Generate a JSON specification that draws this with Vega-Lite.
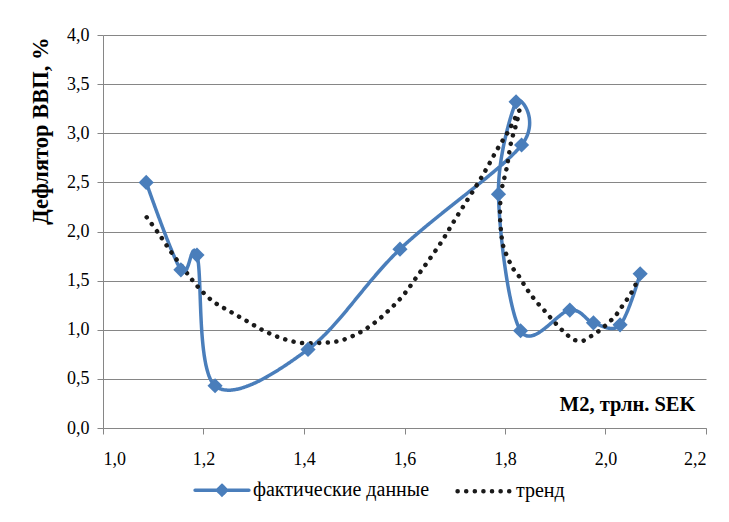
{
  "$schema": "https://vega.github.io/schema/vega-lite/v6.json",
  "width": 603,
  "height": 393,
  "autosize": {"type": "none"},
  "padding": {"left": 103, "top": 35, "right": 23, "bottom": 94},
  "background": "white",
  "config": {
    "font": "Liberation Serif",
    "view": {"stroke": null},
    "axis": {"domainColor": "#868686", "tickColor": "#868686", "gridColor": "#868686", "tickSize": 6}
  },
  "data": {
    "values": [
      {"s": "фактические данные", "i": 1, "x": 1.086, "y": 2.50},
      {"s": "фактические данные", "i": 2, "x": 1.155, "y": 1.61},
      {"s": "фактические данные", "i": 3, "x": 1.187, "y": 1.76},
      {"s": "фактические данные", "i": 4, "x": 1.223, "y": 0.43},
      {"s": "фактические данные", "i": 5, "x": 1.408, "y": 0.80},
      {"s": "фактические данные", "i": 6, "x": 1.591, "y": 1.82},
      {"s": "фактические данные", "i": 7, "x": 1.833, "y": 2.88},
      {"s": "фактические данные", "i": 8, "x": 1.822, "y": 3.32},
      {"s": "фактические данные", "i": 9, "x": 1.787, "y": 2.38},
      {"s": "фактические данные", "i": 10, "x": 1.831, "y": 0.99},
      {"s": "фактические данные", "i": 11, "x": 1.929, "y": 1.20},
      {"s": "фактические данные", "i": 12, "x": 1.976, "y": 1.07},
      {"s": "фактические данные", "i": 13, "x": 2.029, "y": 1.05},
      {"s": "фактические данные", "i": 14, "x": 2.069, "y": 1.57},
      {"s": "тренд", "i": 1, "x": 1.087, "y": 2.145},
      {"s": "тренд", "i": 2, "x": 1.112, "y": 1.970},
      {"s": "тренд", "i": 3, "x": 1.137, "y": 1.780},
      {"s": "тренд", "i": 4, "x": 1.162, "y": 1.611},
      {"s": "тренд", "i": 5, "x": 1.188, "y": 1.442},
      {"s": "тренд", "i": 6, "x": 1.218, "y": 1.292},
      {"s": "тренд", "i": 7, "x": 1.251, "y": 1.191},
      {"s": "тренд", "i": 8, "x": 1.286, "y": 1.089},
      {"s": "тренд", "i": 9, "x": 1.321, "y": 0.988},
      {"s": "тренд", "i": 10, "x": 1.357, "y": 0.911},
      {"s": "тренд", "i": 11, "x": 1.394, "y": 0.866},
      {"s": "тренд", "i": 12, "x": 1.432, "y": 0.866},
      {"s": "тренд", "i": 13, "x": 1.470, "y": 0.886},
      {"s": "тренд", "i": 14, "x": 1.507, "y": 0.961},
      {"s": "тренд", "i": 15, "x": 1.540, "y": 1.069},
      {"s": "тренд", "i": 16, "x": 1.571, "y": 1.208},
      {"s": "тренд", "i": 17, "x": 1.599, "y": 1.360},
      {"s": "тренд", "i": 18, "x": 1.624, "y": 1.536},
      {"s": "тренд", "i": 19, "x": 1.649, "y": 1.713},
      {"s": "тренд", "i": 20, "x": 1.674, "y": 1.898},
      {"s": "тренд", "i": 21, "x": 1.696, "y": 2.084},
      {"s": "тренд", "i": 22, "x": 1.718, "y": 2.264},
      {"s": "тренд", "i": 23, "x": 1.742, "y": 2.457},
      {"s": "тренд", "i": 24, "x": 1.764, "y": 2.647},
      {"s": "тренд", "i": 25, "x": 1.785, "y": 2.840},
      {"s": "тренд", "i": 26, "x": 1.808, "y": 3.033},
      {"s": "тренд", "i": 27, "x": 1.828, "y": 3.230},
      {"s": "тренд", "i": 28, "x": 1.822, "y": 3.086},
      {"s": "тренд", "i": 29, "x": 1.812, "y": 2.904},
      {"s": "тренд", "i": 30, "x": 1.803, "y": 2.637},
      {"s": "тренд", "i": 31, "x": 1.793, "y": 2.416},
      {"s": "тренд", "i": 32, "x": 1.790, "y": 2.180},
      {"s": "тренд", "i": 33, "x": 1.793, "y": 1.959},
      {"s": "тренд", "i": 34, "x": 1.797, "y": 1.841},
      {"s": "тренд", "i": 35, "x": 1.805, "y": 1.739},
      {"s": "тренд", "i": 36, "x": 1.815, "y": 1.631},
      {"s": "тренд", "i": 37, "x": 1.828, "y": 1.543},
      {"s": "тренд", "i": 38, "x": 1.840, "y": 1.442},
      {"s": "тренд", "i": 39, "x": 1.851, "y": 1.360},
      {"s": "тренд", "i": 40, "x": 1.864, "y": 1.276},
      {"s": "тренд", "i": 41, "x": 1.878, "y": 1.198},
      {"s": "тренд", "i": 42, "x": 1.892, "y": 1.114},
      {"s": "тренд", "i": 43, "x": 1.906, "y": 1.036},
      {"s": "тренд", "i": 44, "x": 1.921, "y": 0.961},
      {"s": "тренд", "i": 45, "x": 1.936, "y": 0.901},
      {"s": "тренд", "i": 46, "x": 1.954, "y": 0.886},
      {"s": "тренд", "i": 47, "x": 1.971, "y": 0.934},
      {"s": "тренд", "i": 48, "x": 1.989, "y": 0.995},
      {"s": "тренд", "i": 49, "x": 2.004, "y": 1.063},
      {"s": "тренд", "i": 50, "x": 2.019, "y": 1.137},
      {"s": "тренд", "i": 51, "x": 2.032, "y": 1.231},
      {"s": "тренд", "i": 52, "x": 2.044, "y": 1.317},
      {"s": "тренд", "i": 53, "x": 2.055, "y": 1.408},
      {"s": "тренд", "i": 54, "x": 2.067, "y": 1.540}
    ]
  },
  "encoding": {
    "x": {
      "field": "x", "type": "quantitative",
      "scale": {"domain": [1.0, 2.2], "nice": false, "zero": false},
      "axis": {
        "values": [1.0, 1.2, 1.4, 1.6, 1.8, 2.0, 2.2],
        "labelExpr": "replace(format(datum.value, '.1f'), '.', ',')",
        "labelFont": "Liberation Serif", "labelFontSize": 18, "labelColor": "#000",
        "grid": false, "labelPadding": 16,
        "title": "M2, трлн. SEK", "titleFont": "Liberation Serif", "titleFontSize": 20.5, "titleFontWeight": "bold", "titleColor": "#000",
        "titleAnchor": null, "titleAlign": "right", "titleX": 592, "titleY": -18, "titleBaseline": "alphabetic"
      }
    },
    "y": {
      "field": "y", "type": "quantitative",
      "scale": {"domain": [0, 4], "nice": false},
      "axis": {
        "values": [0, 0.5, 1, 1.5, 2, 2.5, 3, 3.5, 4],
        "labelExpr": "replace(format(datum.value, '.1f'), '.', ',')",
        "labelFont": "Liberation Serif", "labelFontSize": 18, "labelColor": "#000",
        "grid": true, "labelPadding": 8,
        "title": "Дефлятор ВВП, %", "titleFont": "Liberation Serif", "titleFontSize": 22.5, "titleFontWeight": "bold", "titleColor": "#000",
        "titleAnchor": "end", "titleAlign": "right", "titleY": 2, "titleX": -56, "titleBaseline": "alphabetic", "titleAngle": -90
      }
    }
  },
  "layer": [
    {
      "mark": {"type": "line", "interpolate": "cardinal", "tension": 0, "strokeCap": "round"},
      "encoding": {
        "order": {"field": "i", "type": "quantitative"},
        "color": {
          "field": "s", "type": "nominal",
          "scale": {"domain": ["фактические данные", "тренд"], "range": ["#4a7ebb", "#1a1a1a"]},
          "legend": {
            "title": null, "orient": "none", "direction": "horizontal",
            "legendX": 90, "legendY": 426,
            "labelFont": "Liberation Serif", "labelFontSize": 20, "labelColor": "#000", "labelLimit": 400,
            "symbolType": "M-1,0L1,0", "symbolSize": 2900, "symbolStrokeWidth": 3.5,
            "labelOffset": 2, "columnPadding": 18,
            "encode": {
              "symbols": {
                "update": {
                  "shape": {"signal": "datum.value == 'тренд' ? 'M-1,0L1,0' : 'M-1,0L1,0M0,-0.17L0.17,0L0,0.17L-0.17,0Z'"},
                  "fill": {"signal": "datum.value == 'тренд' ? 'transparent' : '#4a7ebb'"},
                  "strokeWidth": {"signal": "datum.value == 'тренд' ? 4.5 : 3.5"},
                  "strokeCap": {"value": "round"},
                  "fillOpacity": {"value": 1}
                }
              }
            }
          }
        },
        "strokeDash": {
          "field": "s", "type": "nominal",
          "scale": {"domain": ["фактические данные", "тренд"], "range": [[1, 0], [0.1, 8.5]]},
          "legend": null
        },
        "strokeWidth": {
          "field": "s", "type": "nominal",
          "scale": {"domain": ["фактические данные", "тренд"], "range": [3.5, 4.5]},
          "legend": null
        }
      }
    },
    {
      "transform": [{"filter": "datum.s == 'фактические данные'"}],
      "mark": {"type": "point", "shape": "diamond", "filled": true, "size": 230, "color": "#4a7ebb", "opacity": 1}
    }
  ]
}
